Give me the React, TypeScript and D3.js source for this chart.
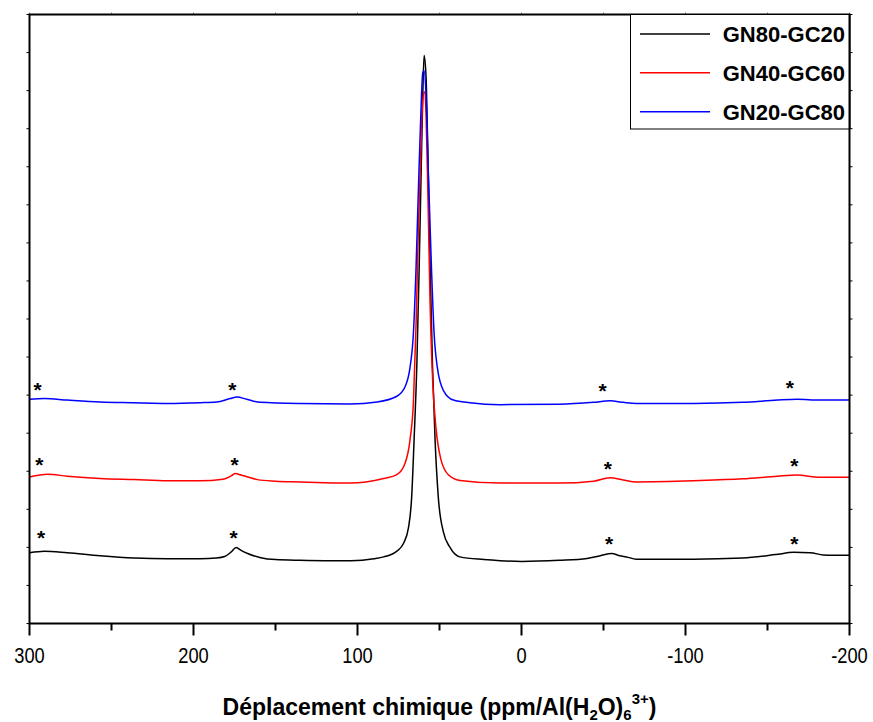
import React from "react";
import * as d3 from "d3";

// ---------- data ----------
const seriesNames = ["GN80-GC20", "GN40-GC60", "GN20-GC80"];
const seriesColors = ["#000000", "#ff0000", "#0000ff"];

// [chemical shift (ppm), intensity (arb. units, stacked)]
const gn80gc20: [number, number][] = [
  [300, 1.86], [291, 1.9], [277, 1.86], [257, 1.78], [236, 1.72], [216, 1.7], [196, 1.7],
  [186, 1.72], [181, 1.76], [177, 1.88], [174, 2.0], [171, 1.92], [167, 1.84], [159, 1.73],
  [150, 1.68], [135, 1.66], [120, 1.65], [104, 1.65], [90, 1.7], [84, 1.75], [76, 1.9],
  [72, 2.1], [69, 2.5], [67, 3.3], [65.5, 4.82], [63.8, 6.82], [62.4, 9.34], [61.2, 11.86],
  [60.2, 13.86], [59.4, 14.92], [58.2, 14.37], [57.1, 12.36], [55.7, 9.34], [54.3, 6.82],
  [52.7, 4.82], [50.7, 3.3], [47.6, 2.4], [43.6, 2.0], [37.5, 1.75], [23, 1.68], [13, 1.65],
  [0, 1.63], [-23, 1.66], [-40, 1.71], [-48, 1.78], [-55, 1.84], [-60, 1.78], [-64, 1.75],
  [-70, 1.69], [-90, 1.69], [-105, 1.69], [-135, 1.72], [-155, 1.81], [-166, 1.87],
  [-176, 1.86], [-184, 1.8], [-190, 1.79], [-200, 1.79],
];

const gn40gc60: [number, number][] = [
  [300, 3.85], [289, 3.92], [277, 3.87], [257, 3.81], [236, 3.78], [216, 3.75], [196, 3.75],
  [182, 3.79], [177, 3.88], [174.5, 3.94], [171, 3.9], [167, 3.85], [161, 3.78], [150, 3.74],
  [135, 3.72], [120, 3.7], [104.5, 3.69], [84, 3.81], [76, 3.91], [71, 4.21], [68, 4.82],
  [65.9, 5.82], [64.3, 7.84], [62.9, 10.34], [61.4, 12.36], [60.2, 13.76], [59.2, 13.97],
  [58.2, 13.36], [57.1, 11.36], [55.7, 8.34], [54.1, 6.32], [52.1, 5.12], [49.2, 4.32],
  [44.6, 3.91], [37.5, 3.76], [13, 3.69], [-23, 3.69], [-44, 3.74], [-54, 3.83], [-62, 3.77],
  [-70, 3.72], [-105, 3.75], [-135, 3.8], [-156, 3.87], [-168, 3.9], [-182, 3.84], [-200, 3.84],
];

const gn20gc80: [number, number][] = [
  [300, 5.89], [291, 5.91], [277, 5.87], [257, 5.82], [236.5, 5.8], [216, 5.78], [196, 5.8],
  [186, 5.82], [177.6, 5.91], [173.6, 5.95], [167.5, 5.89], [159.4, 5.81], [135, 5.78],
  [104.5, 5.77], [88, 5.82], [76, 5.97], [71, 6.22], [68, 6.72], [65.9, 7.63], [64.3, 9.34],
  [62.9, 11.35], [61.4, 13.36], [60.2, 14.47], [59.4, 14.52], [58.2, 13.86], [56.8, 11.85],
  [54.9, 9.34], [53.3, 7.63], [51.3, 6.72], [47.6, 6.12], [41.5, 5.87], [31.4, 5.8], [13, 5.75],
  [-23, 5.76], [-44, 5.81], [-54, 5.85], [-62, 5.81], [-70, 5.78], [-105, 5.78], [-135, 5.81],
  [-156, 5.87], [-168, 5.89], [-182, 5.87], [-200, 5.87],
];

const seriesData = [gn80gc20, gn40gc60, gn20gc80];

// spinning side band markers (*) : [ppm, level]
const starsBlack: [number, number][] = [[293, 2.37], [175.6, 2.37], [-53.4, 2.23], [-166.3, 2.23]];
const starsRed: [number, number][] = [[294, 4.29], [175, 4.29], [-52.6, 4.2], [-166.3, 4.26]];
const starsBlue: [number, number][] = [[295, 6.26], [176.3, 6.26], [-49.5, 6.23], [-163.7, 6.31]];
const starSets = [starsBlack, starsRed, starsBlue];

const xMajorTicks = [300, 200, 100, 0, -100, -200];
const xMinorTicks = [250, 150, 50, -50, -150];
const yTicks = d3.range(0, 17, 1);

const FONT = "'Liberation Sans', Arial, Helvetica, sans-serif";

export default function App() {
  const W = 873;
  const H = 722;
  const left = 29.5, right = 849.5, top = 14.5, bottom = 623.5;

  const x = d3.scaleLinear().domain([300, -200]).range([left, right]);
  const y = d3.scaleLinear().domain([0, 16]).range([bottom, top]);

  const line = d3
    .line<[number, number]>()
    .x((d) => x(d[0]))
    .y((d) => y(d[1]))
    .curve(d3.curveMonotoneX);

  return (
    <svg
      width={W}
      height={H}
      style={{ position: "absolute", left: 0, top: 0, background: "#fff" }}
      fontFamily={FONT}
    >
      <rect x={0} y={0} width={W} height={H} fill="#fff" />

      {/* series */}
      {seriesData.map((d, i) => (
        <path key={i} d={line(d) || ""} fill="none" stroke={seriesColors[i]} strokeWidth={1.5} />
      ))}

      {/* asterisks */}
      {starSets.map((set, i) =>
        set.map((s, j) => (
          <text
            key={`s${i}-${j}`}
            x={x(s[0])}
            y={y(s[1]) + 12}
            textAnchor="middle"
            fontSize={21}
            fontWeight="bold"
            fill="#000"
          >
            *
          </text>
        ))
      )}

      {/* y ticks (no labels) */}
      {yTicks.map((t) => (
        <g key={`yt${t}`}>
          <line x1={left} x2={left - 3} y1={y(t)} y2={y(t)} stroke="#000" strokeWidth={1} />
          <line x1={right} x2={right + 3} y1={y(t)} y2={y(t)} stroke="#000" strokeWidth={1} />
        </g>
      ))}

      {/* x ticks */}
      {xMajorTicks.map((t) => (
        <g key={`xM${t}`}>
          <line x1={x(t)} x2={x(t)} y1={bottom} y2={bottom + 12} stroke="#000" strokeWidth={2} />
          <line x1={x(t)} x2={x(t)} y1={top} y2={top - 2} stroke="#888" strokeWidth={1} />
          <text
            transform={`translate(${x(t)},${663}) scale(0.85,1)`}
            textAnchor="middle"
            fontSize={21.5}
            fill="#000"
          >
            {t}
          </text>
        </g>
      ))}
      {xMinorTicks.map((t) => (
        <g key={`xm${t}`}>
          <line x1={x(t)} x2={x(t)} y1={bottom} y2={bottom + 7} stroke="#000" strokeWidth={2} />
          <line x1={x(t)} x2={x(t)} y1={top} y2={top - 2} stroke="#888" strokeWidth={1} />
        </g>
      ))}

      {/* frame */}
      <rect x={left} y={top} width={right - left} height={bottom - top} fill="none" stroke="#000" strokeWidth={2} />

      {/* legend */}
      <rect x={630.5} y={top} width={right - 630.5} height={129 - top} fill="#fff" stroke="#000" strokeWidth={1} />
      {seriesNames.map((n, i) => {
        const ly = [34, 72.7, 111.7][i];
        return (
          <g key={n}>
            <line x1={640} x2={710} y1={ly} y2={ly} stroke={seriesColors[i]} strokeWidth={1.5} />
            <text x={845} y={ly + 8} textAnchor="end" fontSize={22} fontWeight="bold" fill="#000">
              {n}
            </text>
          </g>
        );
      })}
      <line x1={right} x2={right} y1={top} y2={129} stroke="#000" strokeWidth={2} />

      {/* x axis title */}
      <text
        x={(left + right) / 2}
        y={715}
        textAnchor="middle"
        fontSize={23}
        fontWeight="bold"
        fill="#000"
      >
        Déplacement chimique (ppm/Al(H
        <tspan fontSize={15} dy={5}>2</tspan>
        <tspan dy={-5}>O)</tspan>
        <tspan fontSize={15} dy={5}>6</tspan>
        <tspan fontSize={15} dy={-16}>3+</tspan>
        <tspan dy={11}>)</tspan>
      </text>
    </svg>
  );
}
